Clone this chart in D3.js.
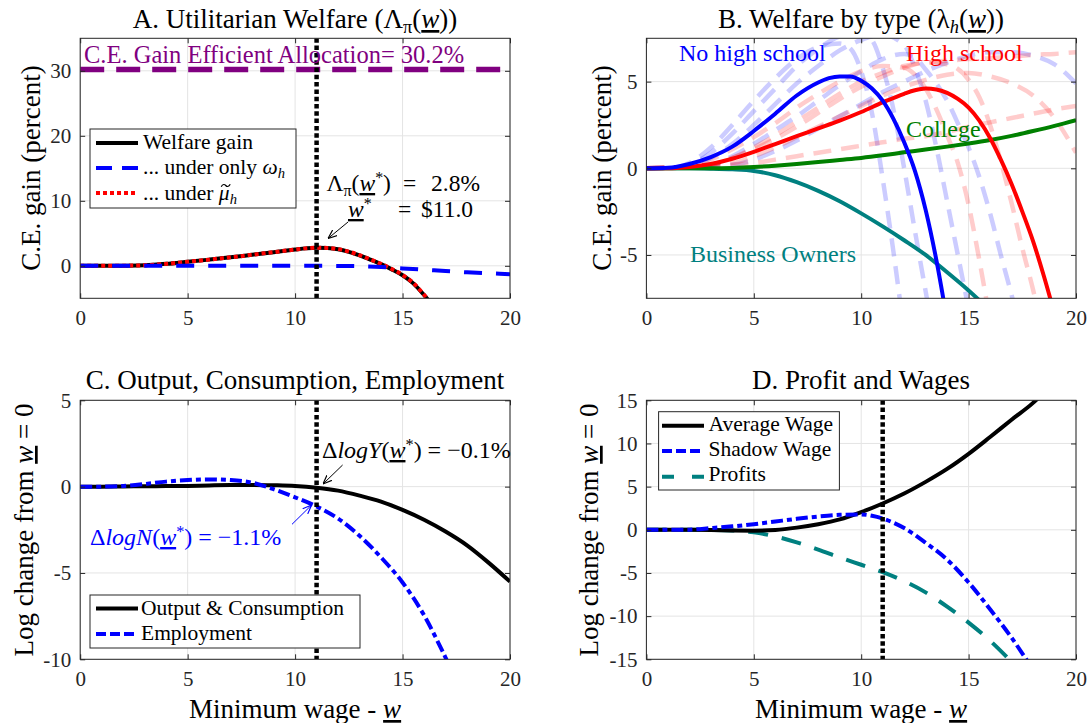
<!DOCTYPE html>
<html><head><meta charset="utf-8">
<script src="https://cdn.jsdelivr.net/npm/d3@7"></script>
<style>
body{margin:0;background:#fff}
svg{display:block}
text{font-family:"Liberation Serif","Times New Roman",serif}
</style>
</head><body>
<svg id="c" width="1087" height="723"></svg>
<script>
// ---------------- data ----------------
const xTicks = [0, 5, 10, 15, 20];
const wStar = 11;
const efficientGain = 30.2;

// Panel A: utilitarian welfare
const welfareX = [0,1,2,3,4,5,6,7,8,9,10,10.5,11,11.5,12,12.5,13,13.5,14,14.5,15,15.5,16,16.5];
const welfareY = [0,0,0.02,0.08,0.3,0.62,0.95,1.3,1.7,2.1,2.5,2.68,2.78,2.74,2.55,2.15,1.6,0.95,0.25,-0.55,-1.45,-2.7,-4.5,-6.5];
const muY      = [0,0,0.02,0.08,0.3,0.62,0.95,1.3,1.7,2.1,2.5,2.68,2.78,2.75,2.57,2.18,1.63,0.98,0.3,-0.5,-1.4,-2.65,-4.45,-6.4];
const omegaX = [0,2,4,6,8,10,11,12,13,14,15,16,17,18,19,20];
const omegaY = [0,0,0,0,0,0,0,-0.02,-0.06,-0.18,-0.4,-0.6,-0.8,-1.0,-1.15,-1.3];

// Panel B: welfare by type
const nhsX = [0,1,2,3,4,5,6,7,8,8.5,9,9.5,10,10.5,11,11.5,12,12.5,13,13.5,14];
const nhsY = [0,0.03,0.25,0.65,1.25,2.15,3.15,4.2,4.95,5.2,5.3,5.3,5.05,4.6,3.9,2.85,1.5,-0.15,-2.4,-5.3,-8.8];
const hsX = [0,1,2,3,4,5,6,7,8,9,10,11,12,12.5,13,13.5,14,14.5,15,15.5,16,16.5,17,17.5,18,18.5,19];
const hsY = [0,0,0.08,0.25,0.55,0.95,1.4,1.85,2.3,2.75,3.25,3.8,4.3,4.5,4.6,4.55,4.35,4.0,3.5,2.75,1.75,0.5,-0.9,-2.5,-4.2,-6.2,-8.4];
const colX = [0,1,2,3,4,5,6,7,8,9,10,11,12,13,14,15,16,17,18,19,20];
const colY = [0,0,0,0,0.02,0.07,0.15,0.25,0.36,0.48,0.6,0.75,0.92,1.08,1.25,1.43,1.63,1.87,2.15,2.45,2.78];
const boX = [0,1,2,3,4,5,6,7,8,9,10,11,12,13,14,15,16];
const boY = [0,0,0,-0.02,-0.06,-0.15,-0.4,-0.8,-1.3,-1.9,-2.6,-3.35,-4.15,-5.0,-6.0,-7.05,-8.2];
// faint no-high-school curves
const fb1X = [0,1,2,3,4,5,6,7,8,9,9.5,10,10.5,11,11.5,12];
const fb1Y = [0,0,0.3,1.2,2.5,3.9,5.2,6.3,7.0,7.2,6.9,5.6,3.2,-0.6,-4.8,-9.5];
const fb2X = [0,1,2,3,4,5,6,7,8,9,10,10.5,11,11.5,12,12.5,13,13.5];
const fb2Y = [0,0,0.2,0.9,2.0,3.3,4.6,5.9,6.9,7.6,7.8,7.4,5.8,3.4,0,-3.6,-7.1,-10.5];
const fb3X = [0,2,3,4,5,6,7,8,9,10,11,12,12.5,13,13.5,14,14.5,15];
const fb3Y = [0,0.1,0.6,1.4,2.5,3.7,4.9,5.9,6.8,7.4,7.7,7.1,5.8,3.9,1.2,-1.9,-5.0,-8.1];
const fb4X = [0,3,4,5,6,7,8,9,10,11,12,12.5,13,13.5,14,14.5,15,15.5,16,16.5,17,17.5];
const fb4Y = [0,0.2,0.7,1.4,2.2,3.0,3.9,4.8,5.6,6.3,6.6,6.4,5.7,4.9,3.9,2.6,1.2,-0.5,-2.6,-5.0,-7.3,-9.8];
const fb5X = [0,4,5,6,7,8,9,10,11,12,13,14,15,16,17,18,19,20];
const fb5Y = [0,0.2,0.5,1.0,1.6,2.3,3.0,3.7,4.4,5.0,5.6,6.1,6.5,6.7,6.7,6.5,6.0,4.9];
// faint high-school curves
const fr1X = [0,2,3,4,5,6,7,8,9,10,11,12,12.5,13,13.5,14,14.5,15,15.5,16];
const fr1Y = [0,0.1,0.5,1.1,1.8,2.6,3.5,4.3,5.0,5.6,5.9,5.8,5.4,4.6,3.4,1.9,0.3,-2.1,-5.3,-8.8];
const fr2X = [0,3,4,5,6,7,8,9,10,11,12,13,14,15,15.5,16,16.5,17,17.5,18,18.5];
const fr2Y = [0,0.2,0.6,1.1,1.7,2.4,3.2,4.0,4.7,5.3,5.8,6.1,6.0,5.1,4.1,2.5,0.4,-2.0,-4.6,-7.0,-9.8];
const fr3X = [0,4,5,6,7,8,9,10,11,12,13,14,15,16,17,18,19,20];
const fr3Y = [0,0.3,0.7,1.2,1.8,2.4,3.0,3.6,4.2,4.7,5.1,5.4,5.5,5.3,4.9,4.2,2.9,0.9];
const fr4X = [0,5,6,7,8,9,10,11,12,13,14,15,16,17,18,19,20];
const fr4Y = [0,0.3,0.5,0.7,0.9,1.1,1.3,1.5,1.7,1.85,2.1,2.4,2.65,2.9,3.15,3.4,3.6];
const fr5X = [0,3,4,5,6,7,8,9,10,11,12,13,14,15,16,17,18,19,20];
const fr5Y = [0,0.2,0.6,1.2,1.9,2.7,3.5,4.3,5.0,5.5,5.9,6.1,6.2,6.3,6.35,6.45,6.55,6.6,6.7];

// Panel C: output, consumption, employment
const outX = [0,1,2,3,4,5,6,7,8,9,10,11,12,13,14,15,16,17,18,19,20];
const outY = [0,0,0.01,0.02,0.03,0.04,0.07,0.09,0.1,0.08,0.04,-0.06,-0.23,-0.52,-0.87,-1.35,-1.92,-2.6,-3.4,-4.4,-5.5];
const empX = [0,1,2,3,4,5,6,7,8,9,10,11,12,13,14,15,16,17,17.5];
const empY = [0,0,0.04,0.15,0.29,0.38,0.42,0.38,0.23,-0.15,-0.62,-1.15,-1.85,-2.85,-4.1,-5.55,-7.45,-9.9,-11.2];

// Panel D: profit and wages
const avgX = [0,1,2,3,4,5,6,7,8,9,10,11,12,13,14,15,16,17,18,18.3];
const avgY = [0,0,0,-0.02,-0.08,-0.1,-0.02,0.25,0.65,1.2,2.05,3.05,4.2,5.55,7.05,8.8,10.75,12.75,14.7,15.4];
const shadowX = [0,1,2,3,4,5,6,7,8,9,10,10.5,11,11.5,12,13,14,15,16,17,18];
const shadowY = [0,0,0.02,0.2,0.4,0.65,0.96,1.27,1.54,1.73,1.78,1.62,1.3,0.82,0.2,-1.5,-3.45,-6.1,-9.2,-12.5,-16.2];
const profitX = [0,1,2,3,4,5,6,7,8,9,10,11,12,13,14,15,16,17];
const profitY = [0,0,0,-0.01,-0.08,-0.3,-0.77,-1.46,-2.3,-3.2,-4.05,-4.9,-5.95,-7.25,-8.9,-10.75,-12.85,-15.3];

// ---------------- drawing ----------------
const svg = d3.select('#c');
const defs = svg.append('defs');
[['ahk','#000'],['ahb','#0000ff']].forEach(([id,c])=>{
  defs.append('marker').attr('id',id).attr('viewBox','0 0 10 10')
    .attr('refX',10).attr('refY',5).attr('markerWidth',9).attr('markerHeight',9)
    .attr('markerUnits','userSpaceOnUse').attr('orient','auto')
    .append('path').attr('d','M0,1 L10,5 L0,9').attr('fill','none').attr('stroke',c).attr('stroke-width',1.3);
});

const AX = '#262626';
const BLUE='#0000ff', RED='#ff0000', TEAL='#008080', GREEN='#008000', PURPLE='#800080';

function rich(g, x, y, parts, o) {
  const fs = o.size;
  const t = g.append('text').attr('x',x).attr('y',y).attr('font-size',fs)
    .attr('fill',o.color||'#000').attr('text-anchor',o.anchor||'start');
  if (o.rotate) t.attr('transform',`rotate(-90,${x},${y})`);
  let shift = 0;
  parts.forEach(p=>{
    const s = t.append('tspan').text(p.t);
    let target = 0, size = fs;
    if (p.sub) { target = 0.2*fs; size = 0.68*fs; }
    if (p.sup) { target = -0.33*fs; size = 0.68*fs; }
    if (p.x != null) s.attr('x', p.x);
    if (target !== shift) { s.attr('dy', target - shift); shift = target; }
    if (size !== fs) s.attr('font-size', size);
    if (p.it) s.attr('font-style','italic');
    if (p.ul) s.attr('text-decoration','underline');
  });
  return t;
}

function panel(id, cfg) {
  const g = svg.append('g');
  const x = d3.scaleLinear().domain([0,20]).range([cfg.x0,cfg.x1]);
  const y = d3.scaleLinear().domain(cfg.ydom).range([cfg.y1,cfg.y0]);
  g.append('rect').attr('x',cfg.x0).attr('y',cfg.y0).attr('width',cfg.x1-cfg.x0).attr('height',cfg.y1-cfg.y0).attr('fill','#fff');
  const grid = g.append('g').attr('stroke','#e4e4e4').attr('stroke-width',1);
  grid.selectAll('line.gx').data(xTicks).join('line').attr('class','gx')
    .attr('x1',d=>x(d)).attr('x2',d=>x(d)).attr('y1',cfg.y0).attr('y2',cfg.y1);
  grid.selectAll('line.gy').data(cfg.yticks).join('line').attr('class','gy')
    .attr('x1',cfg.x0).attr('x2',cfg.x1).attr('y1',d=>y(d)).attr('y2',d=>y(d));
  svg.append('clipPath').attr('id','clip'+id).append('rect')
    .attr('x',cfg.x0).attr('y',cfg.y0).attr('width',cfg.x1-cfg.x0).attr('height',cfg.y1-cfg.y0);
  const dg = g.append('g').attr('clip-path',`url(#clip${id})`);
  const fmt = d=>String(d);
  const ax = g.append('g');
  const style = s => { s.attr('font-family',null).attr('font-size',21); s.select('.domain').remove();
    s.selectAll('line').attr('stroke',AX); s.selectAll('text').attr('fill',AX); };
  ax.append('g').attr('transform',`translate(0,${cfg.y1})`)
    .call(d3.axisBottom(x).tickValues(xTicks).tickSizeInner(-5).tickSizeOuter(0).tickPadding(12).tickFormat(fmt)).call(style);
  ax.append('g').attr('transform',`translate(0,${cfg.y0})`)
    .call(d3.axisTop(x).tickValues(xTicks).tickSizeInner(-5).tickSizeOuter(0).tickFormat('')).call(style);
  ax.append('g').attr('transform',`translate(${cfg.x0},0)`)
    .call(d3.axisLeft(y).tickValues(cfg.yticks).tickSizeInner(-5).tickSizeOuter(0).tickPadding(9).tickFormat(fmt)).call(style);
  ax.append('g').attr('transform',`translate(${cfg.x1},0)`)
    .call(d3.axisRight(y).tickValues(cfg.yticks).tickSizeInner(-5).tickSizeOuter(0).tickFormat('')).call(style);
  g.append('rect').attr('x',cfg.x0).attr('y',cfg.y0).attr('width',cfg.x1-cfg.x0).attr('height',cfg.y1-cfg.y0)
    .attr('fill','none').attr('stroke',AX).attr('stroke-width',1);
  return {g, dg, x, y, cfg};
}

function line(P, xs, ys, o) {
  const l = d3.line().x((d,i)=>P.x(xs[i])).y(d=>P.y(d)).curve(d3.curveMonotoneX);
  const p = P.dg.append('path').attr('d', l(ys)).attr('fill','none')
    .attr('stroke',o.color).attr('stroke-width',o.w||4);
  if (o.dash) p.attr('stroke-dasharray',o.dash);
  if (o.op) p.attr('stroke-opacity',o.op);
  return p;
}
function vline(P, xv) {
  P.dg.append('line').attr('x1',P.x(xv)).attr('x2',P.x(xv)).attr('y1',P.cfg.y0).attr('y2',P.cfg.y1)
    .attr('stroke','#000').attr('stroke-width',4.5).attr('stroke-dasharray','4.5,2.8');
}
function legend(P, box, items) {
  const lg = P.g.append('g');
  lg.append('rect').attr('x',box[0]).attr('y',box[1]).attr('width',box[2]-box[0]).attr('height',box[3]-box[1])
    .attr('fill','#fff').attr('stroke',AX).attr('stroke-width',1);
  const texts = [];
  items.forEach(it=>{
    const s = lg.append('line').attr('x1',it.lx0).attr('x2',it.lx1).attr('y1',it.ly).attr('y2',it.ly)
      .attr('stroke',it.color).attr('stroke-width',it.w||4);
    if (it.dash) s.attr('stroke-dasharray',it.dash);
    texts.push(rich(lg, it.tx, it.ty, it.parts, {size:21.5}));
  });
  return {lg, texts};
}

const DASH_A = '18,14', DOT = '4,3', DASHDOT = '12,4,5,4', DASH_P = '20,14', DASH_F = '18,10';

// ---- Panel A ----
const A = panel('A', {x0:80.2, x1:510, y0:38.3, y1:298.3, ydom:[-5,35], yticks:[0,10,20,30]});
A.dg.append('line').attr('x1',A.cfg.x0).attr('x2',A.cfg.x1).attr('y1',A.y(efficientGain)).attr('y2',A.y(efficientGain))
  .attr('stroke',PURPLE).attr('stroke-width',5.5).attr('stroke-dasharray','24,12');
rich(A.g, 84, 63, [{t:'C.E. Gain Efficient Allocation= '+efficientGain.toFixed(1)+'%'}], {size:24.5, color:PURPLE});
line(A, welfareX, welfareY, {color:'#000', w:4});
line(A, welfareX, muY, {color:RED, w:4, dash:DOT});
line(A, omegaX, omegaY, {color:BLUE, w:4, dash:DASH_A});
vline(A, wStar);
rich(A.g, 326.5, 191, [{t:'Λ'},{t:'π',sub:true},{t:'('},{t:'w',it:true,ul:true},{t:'*',sup:true},{t:')'},{t:'=',x:403},{t:'2.8%',x:431}], {size:23.5});
rich(A.g, 348, 217, [{t:'w',it:true,ul:true},{t:'*',sup:true},{t:'=',x:398},{t:'$11.0',x:421}], {size:23.5});
A.g.append('line').attr('x1',348).attr('y1',222).attr('x2',328).attr('y2',238.5)
  .attr('stroke','#000').attr('stroke-width',1).attr('marker-end','url(#ahk)');
const legA = legend(A, [90,129,296,208], [
  {lx0:96, lx1:138, ly:143, color:'#000', tx:143, ty:149, parts:[{t:'Welfare gain'}]},
  {lx0:96, lx1:138, ly:168, color:BLUE, dash:'16,10', tx:143, ty:173.5, parts:[{t:'... under only '},{t:'ω',it:true},{t:'h',it:true,sub:true}]},
  {lx0:96, lx1:138, ly:193, color:RED, dash:DOT, tx:143, ty:200, parts:[{t:'... under '},{t:'μ',it:true},{t:'h',it:true,sub:true}]}
]);
// tilde accent over mu, drawn as a small path
(function(){
  const tn = legA.texts[2].node();
  const ext = tn.getExtentOfChar(10);
  const cx = ext.x + ext.width/2 + 1.5, cy = 200 - 14.5;
  legA.lg.append('path')
    .attr('d',`M${cx-4.5},${cy+1.2} C${cx-3},${cy-1.8} ${cx-1},${cy-1.2} ${cx},${cy} S${cx+3},${cy+1.8} ${cx+4.5},${cy-1.2}`)
    .attr('fill','none').attr('stroke','#000').attr('stroke-width',1.2);
})();
rich(svg, 295, 28, [{t:'A. Utilitarian Welfare ('},{t:'Λ'},{t:'π',sub:true},{t:'('},{t:'w',it:true,ul:true},{t:'))'}], {size:27, anchor:'middle'});
rich(svg, 40, 168, [{t:'C.E. gain (percent)'}], {size:27, anchor:'middle', rotate:true});

// ---- Panel B ----
const B = panel('B', {x0:646.4, x1:1076, y0:38.3, y1:298.3, ydom:[-7.5,7.5], yticks:[-5,0,5]});
[[fb1X,fb1Y],[fb2X,fb2Y],[fb3X,fb3Y],[fb4X,fb4Y],[fb5X,fb5Y]].forEach(([xs,ys])=>line(B, xs, ys, {color:BLUE, w:4.5, dash:DASH_F, op:0.2}));
[[fr1X,fr1Y],[fr2X,fr2Y],[fr3X,fr3Y],[fr4X,fr4Y],[fr5X,fr5Y]].forEach(([xs,ys])=>line(B, xs, ys, {color:RED, w:4.5, dash:DASH_F, op:0.2}));
line(B, boX, boY, {color:TEAL, w:4});
line(B, colX, colY, {color:GREEN, w:4});
line(B, hsX, hsY, {color:RED, w:4});
line(B, nhsX, nhsY, {color:BLUE, w:4});
rich(B.g, 679, 61, [{t:'No high school'}], {size:24, color:BLUE});
rich(B.g, 906, 61, [{t:'High school'}], {size:24, color:RED});
rich(B.g, 906, 137, [{t:'College'}], {size:24, color:GREEN});
rich(B.g, 690, 262, [{t:'Business Owners'}], {size:24, color:TEAL});
rich(svg, 861, 28, [{t:'B. Welfare by type ('},{t:'λ'},{t:'h',it:true,sub:true},{t:'('},{t:'w',it:true,ul:true},{t:'))'}], {size:27, anchor:'middle'});
rich(svg, 611, 168, [{t:'C.E. gain (percent)'}], {size:27, anchor:'middle', rotate:true});

// ---- Panel C ----
const C = panel('C', {x0:80.2, x1:510, y0:400.3, y1:659.3, ydom:[-10,5], yticks:[-10,-5,0,5]});
line(C, outX, outY, {color:'#000', w:4});
line(C, empX, empY, {color:BLUE, w:4, dash:DASHDOT});
vline(C, wStar);
rich(C.g, 322, 458, [{t:'Δ'},{t:'logY',it:true},{t:'('},{t:'w',it:true,ul:true},{t:'*',sup:true},{t:') = −0.1%'}], {size:24});
C.g.append('line').attr('x1',342.6).attr('y1',465).attr('x2',323).attr('y2',484)
  .attr('stroke','#000').attr('stroke-width',1).attr('marker-end','url(#ahk)');
rich(C.g, 90, 545, [{t:'Δ'},{t:'logN',it:true},{t:'('},{t:'w',it:true,ul:true},{t:'*',sup:true},{t:') = −1.1%'}], {size:24, color:BLUE});
C.g.append('line').attr('x1',292).attr('y1',524.3).attr('x2',311.6).attr('y2',505)
  .attr('stroke',BLUE).attr('stroke-width',1).attr('marker-end','url(#ahb)');
legend(C, [90,595,360,648], [
  {lx0:96, lx1:138, ly:608.5, color:'#000', tx:141, ty:614.5, parts:[{t:'Output & Consumption'}]},
  {lx0:96, lx1:138, ly:634, color:BLUE, dash:'10,4', tx:141, ty:640, parts:[{t:'Employment'}]}
]);
rich(svg, 295, 389, [{t:'C. Output, Consumption, Employment'}], {size:27, anchor:'middle'});
rich(svg, 33, 530, [{t:'Log change from '},{t:'w',it:true,ul:true},{t:' = 0'}], {size:27, anchor:'middle', rotate:true});
rich(svg, 295, 718, [{t:'Minimum wage - '},{t:'w',it:true,ul:true}], {size:27, anchor:'middle'});

// ---- Panel D ----
const D = panel('D', {x0:646.4, x1:1076, y0:400.3, y1:659.3, ydom:[-15,15], yticks:[-15,-10,-5,0,5,10,15]});
line(D, profitX, profitY, {color:TEAL, w:4, dash:DASH_P});
line(D, avgX, avgY, {color:'#000', w:4});
line(D, shadowX, shadowY, {color:BLUE, w:4, dash:DASHDOT});
vline(D, wStar);
legend(D, [658.6,411.7,839.4,490], [
  {lx0:662, lx1:704, ly:425.7, color:'#000', tx:708.5, ty:431, parts:[{t:'Average Wage'}]},
  {lx0:662, lx1:704, ly:451, color:BLUE, dash:'10,4', tx:708.5, ty:456, parts:[{t:'Shadow Wage'}]},
  {lx0:662, lx1:704, ly:476.7, color:TEAL, dash:'12,18', tx:708.5, ty:481, parts:[{t:'Profits'}]}
]);
rich(svg, 861, 389, [{t:'D. Profit and Wages'}], {size:27, anchor:'middle'});
rich(svg, 598, 530, [{t:'Log change from '},{t:'w',it:true,ul:true},{t:' = 0'}], {size:27, anchor:'middle', rotate:true});
rich(svg, 861, 718, [{t:'Minimum wage - '},{t:'w',it:true,ul:true}], {size:27, anchor:'middle'});
</script>
</body></html>
